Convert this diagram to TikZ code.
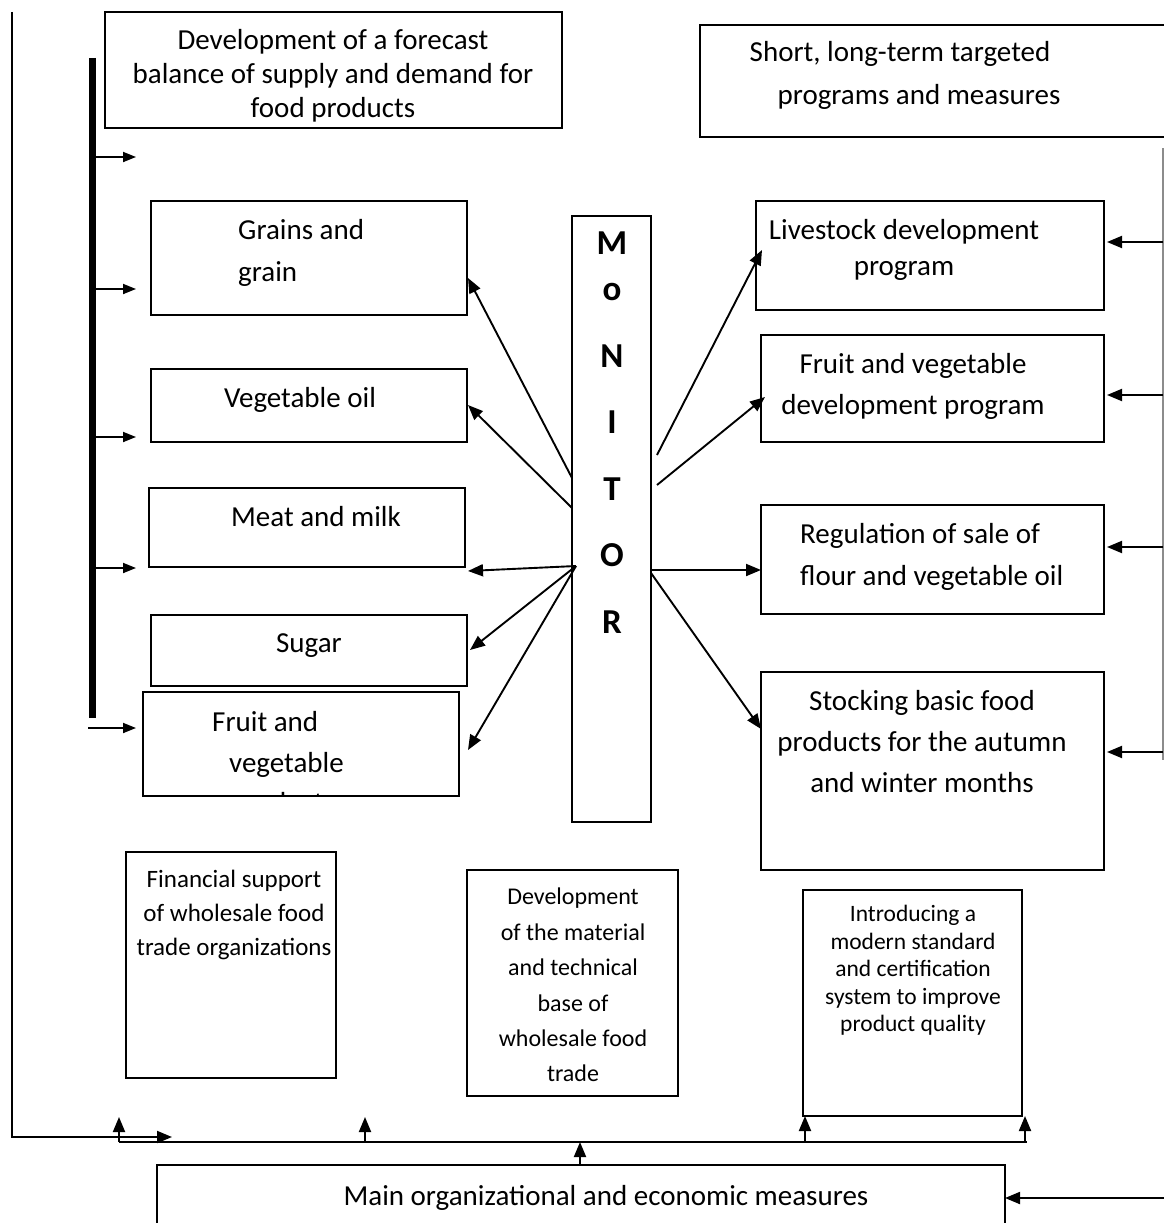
\documentclass[tikz,border=0pt]{standalone}
\usepackage{fontspec}
\setmainfont{Carlito}
\usetikzlibrary{arrows.meta,calc}
\begin{document}
\begin{tikzpicture}[x=1pt,y=-1pt,
  bx/.style={draw, line width=1.7pt, inner sep=0pt, outer sep=0pt, anchor=north west},
  tx/.style={inner sep=0pt, align=center, anchor=north},
  txl/.style={inner sep=0pt, align=left, anchor=north west},
  big/.style={font=\fontsize{29}{34}\selectfont},
  arr/.style={line width=1.9pt, -{Triangle[length=15pt,width=12pt]}},
  sarr/.style={line width=1.8pt, -{Triangle[length=13pt,width=10pt]}}]
\useasboundingbox (0,0) rectangle (1164,1223);

% ---- boxes ----
\node[bx, minimum width=457pt, minimum height=116pt] (fc) at (105,12) {};
\node[bx, minimum width=470pt, minimum height=112pt] (prog) at (700,25) {};
\node[bx, minimum width=316pt, minimum height=114pt] (grains) at (151,201) {};
\node[bx, minimum width=316pt, minimum height=73pt] (vegoil) at (151,369) {};
\node[bx, minimum width=316pt, minimum height=79pt] (meat) at (149,488) {};
\node[bx, minimum width=316pt, minimum height=71pt] (sugar) at (151,615) {};
\node[bx, minimum width=316pt, minimum height=104pt] (fruit) at (143,692) {};
\node[bx, minimum width=79pt, minimum height=606pt] (mon) at (572,216) {};
\node[bx, minimum width=348pt, minimum height=109pt] (liv) at (756,201) {};
\node[bx, minimum width=343pt, minimum height=107pt] (fv) at (761,335) {};
\node[bx, minimum width=343pt, minimum height=109pt] (reg) at (761,505) {};
\node[bx, minimum width=343pt, minimum height=198pt] (stock) at (761,672) {};
\node[bx, minimum width=210pt, minimum height=226pt] (fin) at (126,852) {};
\node[bx, minimum width=211pt, minimum height=226pt] (dev) at (467,870) {};
\node[bx, minimum width=219pt, minimum height=226pt] (intro) at (803,890) {};
\node[bx, minimum width=848pt, minimum height=80pt] (mainm) at (157,1165) {};

% ---- texts ----
\node[tx, big] (fct) at (333,29) {Development of a forecast\\balance of supply and demand for\\food products};
\node[tx, font=\fontsize{29}{43}\selectfont] (progt) at (900,41) {Short, long-term targeted\\\hspace*{38pt}programs and measures};
\node[txl, font=\fontsize{29}{42}\selectfont] (grainst) at (238,219) {Grains and\\grain};
\node[tx, big] (vegoilt) at (300,387) {Vegetable oil};
\node[tx, big] (meatt) at (316,506) {Meat and milk};
\node[tx, big] (sugart) at (309,633) {Sugar};
\node[txl, font=\fontsize{29}{41}\selectfont] (fruitt) at (212,711) {Fruit and\\\hspace*{17pt}vegetable};
\begin{scope}
\clip (fruit.north west) rectangle (fruit.south east);
\node[tx, big] (fruitp) at (283,792) {products};
\end{scope}
\node[tx, font=\fontsize{35}{66.5}\selectfont\bfseries] (mont) at (612,232) {M\\[-20.5pt]o\\N\\I\\T\\O\\R};
\node[tx, font=\fontsize{29}{36}\selectfont] (livt) at (904,219) {Livestock development\\program};
\node[tx, font=\fontsize{29}{41}\selectfont] (fvt) at (913,353) {Fruit and vegetable\\development program};
\node[txl, font=\fontsize{29}{42}\selectfont] (regt) at (800,523) {Regulation of sale of\\flour and vegetable oil};
\node[tx, font=\fontsize{29}{41}\selectfont] (stockt) at (922,690) {Stocking basic food\\products for the autumn\\and winter months};
\node[tx, font=\fontsize{25}{34}\selectfont] (fint) at (234,870) {Financial support\\of wholesale food\\trade organizations};
\node[tx, font=\fontsize{24}{35.4}\selectfont] (devt) at (573,888) {Development\\of the material\\and technical\\base of\\wholesale food\\trade};
\node[tx, font=\fontsize{23.5}{27.5}\selectfont] (introt) at (913,905) {Introducing a\\modern standard\\and certification\\system to improve\\product quality};
\node[tx, big] (maint) at (606,1185) {Main organizational and economic measures};

% ---- left bar ----
\draw[line width=7pt] (92,58) -- (92,718);
\coordinate (b1) at (92,157);  \coordinate (e1) at (136,157);
\coordinate (b2) at (92,289);  \coordinate (e2) at (136,289);
\coordinate (b3) at (92,437);  \coordinate (e3) at (136,437);
\coordinate (b4) at (92,568);  \coordinate (e4) at (136,568);
\coordinate (b5) at (88,728);  \coordinate (e5) at (136,728);
\foreach \i in {1,...,5} \draw[sarr] (b\i) -- (e\i);

% ---- monitor to left boxes ----
\draw[arr] ($(mon.north west)+(0,262)$) -- ($(grains.north east)+(1,77)$);
\draw[arr] ($(mon.north west)+(0,292)$) -- ($(vegoil.north east)+(1,36)$);
\draw[arr] ($(mon.north west)+(4,350)$) -- ($(meat.south east)+(3,4)$);
\draw[arr] ($(mon.north west)+(4,350)$) -- ($(sugar.north east)+(3,35)$);
\draw[arr] ($(mon.north west)+(4,350)$) -- ($(fruit.north east)+(9,58)$);

% ---- monitor to right boxes ----
\draw[arr] ($(mon.north east)+(6,239)$) -- ($(liv.north west)+(6,49)$);
\draw[arr] ($(mon.north east)+(6,269)$) -- ($(fv.north west)+(4,62)$);
\draw[arr] ($(mon.north east)+(0,354)$) -- ($(reg.north west)+(0,65)$);
\draw[arr] ($(mon.north east)+(0,357)$) -- ($(stock.north west)+(0,57)$);

% ---- right vertical line ----
\coordinate (rt) at (1163,148); \coordinate (rb) at (1163,760);
\draw[line width=1.3pt, black!45] (rt) -- (rb);
\coordinate (r1) at (1163,242);
\coordinate (r2) at (1163,395);
\coordinate (r3) at (1163,547);
\coordinate (r4) at (1163,752);
\draw[arr] (r1) -- ($(liv.north east)+(3,41)$);
\draw[arr] (r2) -- ($(fv.north east)+(3,60)$);
\draw[arr] (r3) -- ($(reg.north east)+(3,42)$);
\draw[arr] (r4) -- ($(stock.north east)+(3,80)$);

% ---- outer left line and bottom bus ----
\coordinate (o1) at (12,12); \coordinate (o2) at (12,1137); \coordinate (o3) at (172,1137);
\draw[arr] (o1) -- (o2) -- (o3);
\coordinate (bus1) at (119,1142); \coordinate (bus2) at (1027,1142);
\draw[line width=1.8pt] (bus1) -- (bus2);
\coordinate (u1) at (119,1117);
\coordinate (u2a) at (365,1142); \coordinate (u2) at (365,1117);
\coordinate (u3a) at (805,1142);
\coordinate (u4a) at (1025,1142);
\coordinate (u5) at (580,1142);
\draw[arr] (bus1) -- (u1);
\draw[arr] (u2a) -- (u2);
\draw[arr] (u3a) -- ($(intro.south west)+(2,0)$);
\draw[arr] (u4a) -- ($(intro.south east)+(3,0)$);
\draw[arr] ($(mainm.north west)+(423,0)$) -- (u5);
\coordinate (m1) at (1164,1198);
\draw[arr] (m1) -- ($(mainm.north east)+(0,33)$);
\end{tikzpicture}
\end{document}
